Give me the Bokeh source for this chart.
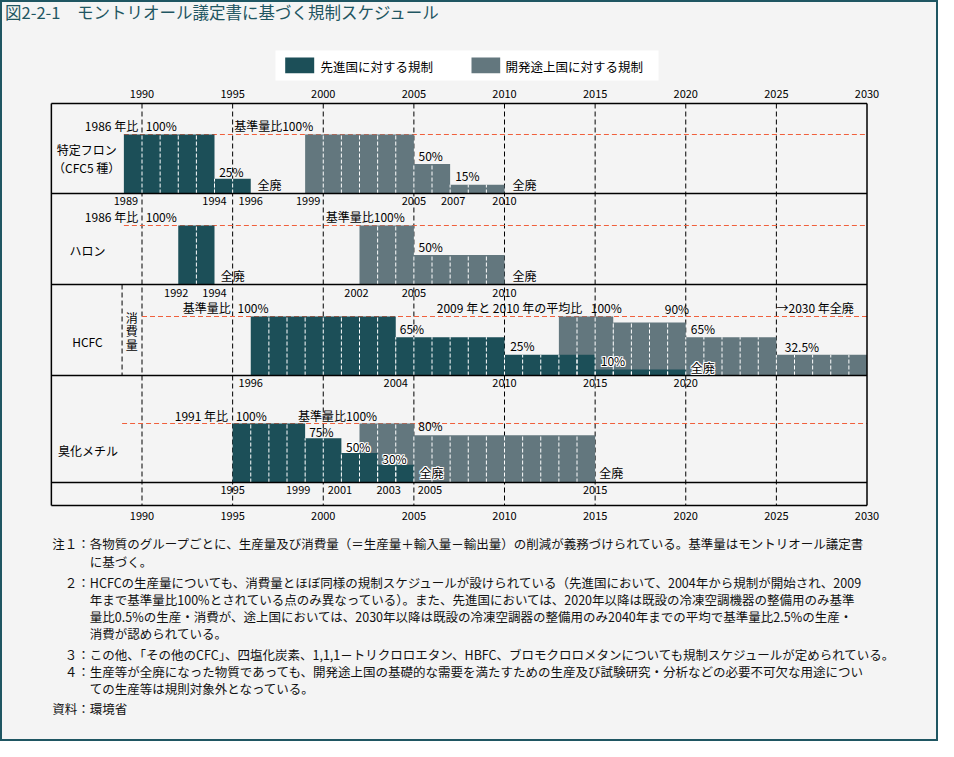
from bokeh.plotting import figure
from bokeh.models import Range1d, ColumnDataSource
from bokeh.core.properties import value
from bokeh.embed import file_html
from bokeh.resources import INLINE

# ---------------------------------------------------------------- data
TITLE = "図2-2-1　モントリオール議定書に基づく規制スケジュール"
LEGEND_DEV = "先進国に対する規制"
LEGEND_DVG = "開発途上国に対する規制"

AXIS_YEARS = [1990, 1995, 2000, 2005, 2010, 2015, 2020, 2025, 2030]
AXIS_LABELS = [str(y) for y in AXIS_YEARS]

# 特定フロン（CFC5種）
cfc_dev_start = [1989, 1994]
cfc_dev_end = [1994, 1996]
cfc_dev_pct = [100, 25]
cfc_dvg_start = [1999, 2005, 2007]
cfc_dvg_end = [2005, 2007, 2010]
cfc_dvg_pct = [100, 50, 15]
cfc_year_marks = [1989, 1994, 1996, 1999, 2005, 2007, 2010]

# ハロン
halon_dev_start = [1992]
halon_dev_end = [1994]
halon_dev_pct = [100]
halon_dvg_start = [2002, 2005]
halon_dvg_end = [2005, 2010]
halon_dvg_pct = [100, 50]
halon_year_marks = [1992, 1994, 2002, 2005, 2010]

# HCFC（消費量）  (heights as drawn in the figure)
hcfc_dev_start = [1996, 2004, 2010, 2015]
hcfc_dev_end = [2004, 2010, 2015, 2020]
hcfc_dev_pct = [100, 65, 35, 10]
hcfc_dvg_start = [2013, 2016, 2020, 2025]
hcfc_dvg_end = [2016, 2020, 2025, 2030]
hcfc_dvg_pct = [100, 90, 65, 35]
hcfc_year_marks = [1996, 2004, 2010, 2015, 2020]

# 臭化メチル
mb_dev_start = [1995, 1999, 2001, 2003]
mb_dev_end = [1999, 2001, 2003, 2005]
mb_dev_pct = [100, 75, 50, 30]
mb_dvg_start = [2002, 2005]
mb_dvg_end = [2005, 2015]
mb_dvg_pct = [100, 80]
mb_year_marks = [1995, 1999, 2001, 2003, 2005, 2015]

NOTES = [
    ("注１：", "各物質のグループごとに、生産量及び消費量（＝生産量＋輸入量－輸出量）の削減が義務づけられている。基準量はモントリオール議定書"),
    ("", "に基づく。"),
    ("２：", "HCFCの生産量についても、消費量とほぼ同様の規制スケジュールが設けられている（先進国において、2004年から規制が開始され、2009"),
    ("", "年まで基準量比100%とされている点のみ異なっている）。また、先進国においては、2020年以降は既設の冷凍空調機器の整備用のみ基準"),
    ("", "量比0.5%の生産・消費が、途上国においては、2030年以降は既設の冷凍空調器の整備用のみ2040年までの平均で基準量比2.5%の生産・"),
    ("", "消費が認められている。"),
    ("３：", "この他、「その他のCFC」、四塩化炭素、1,1,1－トリクロロエタン、HBFC、ブロモクロロメタンについても規制スケジュールが定められている。"),
    ("４：", "生産等が全廃になった物質であっても、開発途上国の基礎的な需要を満たすための生産及び試験研究・分析などの必要不可欠な用途につい"),
    ("", "ての生産等は規則対象外となっている。"),
    ("資料：", "環境省"),
]

# ---------------------------------------------------------------- style / layout
FONT = "Noto Sans CJK JP"
W, H = 938, 741
BG = "#f4f4f4"
DEV = "#1c4f58"
DVG = "#63777e"
RED = "#f0603c"
TEAL = "#1f5662"

PX_PER_YEAR = 18.125
X1990_PX = 141.5
x_start = 1990 - X1990_PX / PX_PER_YEAR
x_end = x_start + W / PX_PER_YEAR

BAR_H = 59.0
ROW_BASE = [193.0, 284.0, 375.0, 482.0]
BOX_TOP, BOX_BOTTOM = 103.0, 505.0
BOX_X0, BOX_X1 = 1985, 2030
RED_START = [1989, 1989, 1990, 1988.9]
HCFC_SPLIT = 1988.9
YEAR_MARK_Y = [200.3, 292.0, 382.0, 489.7]
NOTE_Y = [543, 561, 582, 599, 616, 633, 654, 671, 688, 708]

p = figure(width=W, height=H, x_range=Range1d(x_start, x_end), y_range=Range1d(H, 0),
           x_axis_type=None, y_axis_type=None, toolbar_location=None,
           output_backend="svg", min_border=0, title=None)
p.background_fill_color = BG
p.border_fill_color = BG
p.outline_line_color = TEAL
p.outline_line_width = 3

extra_y = {}
for i, base in enumerate(ROW_BASE):
    extra_y[f"r{i}"] = Range1d((base - H) * 100.0 / BAR_H, base * 100.0 / BAR_H)
p.extra_y_ranges = extra_y
p.extra_x_ranges = {"px": Range1d(0, W)}


def draw_texts(items, size, xr="px", color="black", halo=False, font=FONT):
    """items: (x, y, text, align[, x_offset])"""
    for align in ("left", "right", "center"):
        sub = [it for it in items if it[3] == align]
        if not sub:
            continue
        src = ColumnDataSource(dict(
            x=[s[0] for s in sub], y=[s[1] for s in sub], t=[s[2] for s in sub],
            xo=[(s[4] if len(s) > 4 else 0) for s in sub]))
        common = dict(x="x", y="y", text="t", source=src, x_range_name=xr,
                      text_font=value(font), text_font_size=value(size),
                      text_align=align, text_baseline="middle")
        if halo:
            for dx in (-1, 0, 1):
                for dy in (-1, 0, 1):
                    if dx == 0 and dy == 0:
                        continue
                    src2 = ColumnDataSource(dict(src.data, xo=[v + dx for v in src.data["xo"]]))
                    c2 = dict(common, source=src2)
                    p.text(x_offset="xo", y_offset=dy, text_color="white", **c2)
        p.text(x_offset="xo", text_color=color, **common)


# title
draw_texts([(4.5, 11.5, TITLE, "left")], "16.5px", color=TEAL)

# legend
p.quad(left=[275], right=[658], top=[50], bottom=[80], x_range_name="px",
       fill_color="white", line_color=None)
p.quad(left=[284.7], right=[313.7], top=[57], bottom=[72.7], x_range_name="px",
       fill_color=DEV, line_color=None)
p.quad(left=[471], right=[499.7], top=[57], bottom=[72.7], x_range_name="px",
       fill_color=DVG, line_color=None)
draw_texts([(320, 66, LEGEND_DEV, "left"), (505, 66, LEGEND_DVG, "left")], "12.5px")

# grid (dashed year lines)
grid_years = AXIS_YEARS[:-1]
p.segment(x0=grid_years, x1=grid_years, y0=[BOX_TOP] * len(grid_years),
          y1=[BOX_BOTTOM] * len(grid_years), line_color="black", line_width=1,
          line_dash="5 3")
# HCFC split line
p.segment(x0=[HCFC_SPLIT], x1=[HCFC_SPLIT], y0=[ROW_BASE[1]], y1=[ROW_BASE[2]],
          line_color="black", line_width=1, line_dash="5 3")

# red 100% reference lines
for i in range(4):
    p.segment(x0=[RED_START[i]], x1=[2030], y0=[100], y1=[100], y_range_name=f"r{i}",
              line_color=RED, line_width=1.2, line_dash="5 3")

rows = [
    ((cfc_dev_start, cfc_dev_end, cfc_dev_pct), (cfc_dvg_start, cfc_dvg_end, cfc_dvg_pct)),
    ((halon_dev_start, halon_dev_end, halon_dev_pct), (halon_dvg_start, halon_dvg_end, halon_dvg_pct)),
    ((hcfc_dev_start, hcfc_dev_end, hcfc_dev_pct), (hcfc_dvg_start, hcfc_dvg_end, hcfc_dvg_pct)),
    ((mb_dev_start, mb_dev_end, mb_dev_pct), (mb_dvg_start, mb_dvg_end, mb_dvg_pct)),
]


def separators(starts, ends, pcts):
    xs, tops = [], []
    for k, (s, e, l) in enumerate(zip(starts, ends, pcts)):
        for yr in range(int(s) + 1, int(e)):
            xs.append(yr)
            tops.append(l)
        if k + 1 < len(starts) and starts[k + 1] == e:
            xs.append(e)
            tops.append(min(l, pcts[k + 1]))
    return xs, tops


for i, (dev, dvg) in enumerate(rows):
    rn = f"r{i}"
    for (st, en, pc), col in ((dvg, DVG), (dev, DEV)):
        p.quad(left=st, right=en, top=pc, bottom=[0] * len(st), y_range_name=rn,
               fill_color=col, line_color=None)
    for (st, en, pc) in (dvg, dev):
        xs, tops = separators(st, en, pc)
        if xs:
            p.segment(x0=xs, x1=xs, y0=[0] * len(xs), y1=tops, y_range_name=rn,
                      line_color="white", line_width=1, line_dash="4 2")

# box
h_lines = [BOX_TOP] + ROW_BASE + [BOX_BOTTOM]
p.segment(x0=[BOX_X0] * len(h_lines), x1=[BOX_X1] * len(h_lines), y0=h_lines, y1=h_lines,
          line_color="black", line_width=1.5)
p.segment(x0=[BOX_X0, BOX_X1], x1=[BOX_X0, BOX_X1], y0=[BOX_TOP] * 2, y1=[BOX_BOTTOM] * 2,
          line_color="black", line_width=1.5)

# axis year labels (top & bottom)
axis_items = [(y, 93.7, lab, "center") for y, lab in zip(AXIS_YEARS, AXIS_LABELS)]
axis_items += [(y, 515.5, lab, "center") for y, lab in zip(AXIS_YEARS, AXIS_LABELS)]
draw_texts(axis_items, "11px", xr="default")

# year marks under each row
mark_offsets = [
    {1989: 2, 1999: 3, 2007: 3},
    {1992: -2, 2002: -3},
    {},
    {1999: -7, 2001: -1.5, 2003: 11, 2005: 16},
]
mark_items = []
for i, yrs in enumerate([cfc_year_marks, halon_year_marks, hcfc_year_marks, mb_year_marks]):
    for yv in yrs:
        mark_items.append((yv, YEAR_MARK_Y[i], str(yv), "center", mark_offsets[i].get(yv, 0)))
draw_texts(mark_items, "11px", xr="default")

# row names
draw_texts([
    (86.2, 148.7, "特定フロン", "center"),
    (86.2, 167.0, "（CFC5 種）", "center"),
    (87.0, 249.7, "ハロン", "center"),
    (87.0, 341.0, "HCFC", "center"),
    (131.3, 317.0, "消", "center"),
    (131.3, 330.3, "費", "center"),
    (131.3, 343.7, "量", "center"),
    (87.5, 450.3, "臭化メチル", "center"),
], "12px")

# annotations
draw_texts([
    (137.7, 125.3, "1986 年比", "right"),
    (145.3, 125.3, "100%", "left"),
    (233.7, 125.3, "基準量比100%", "left"),
    (218.7, 171.3, "25%", "left"),
    (257.0, 183.7, "全廃", "left"),
    (418.0, 154.7, "50%", "left"),
    (454.7, 175.3, "15%", "left"),
    (512.0, 183.7, "全廃", "left"),
    (137.7, 216.3, "1986 年比", "right"),
    (145.3, 216.3, "100%", "left"),
    (325.3, 216.3, "基準量比100%", "left"),
    (418.0, 246.0, "50%", "left"),
    (220.3, 275.3, "全廃", "left"),
    (512.0, 275.3, "全廃", "left"),
    (230.3, 307.0, "基準量比", "right"),
    (237.0, 307.0, "100%", "left"),
    (399.3, 327.7, "65%", "left"),
    (436.3, 307.0, "2009 年と 2010 年の平均比", "left"),
    (590.3, 307.0, "100%", "left"),
    (664.3, 308.0, "90%", "left"),
    (776.0, 307.0, "→2030 年全廃", "left"),
    (690.3, 327.7, "65%", "left"),
    (509.7, 345.3, "25%", "left"),
    (784.3, 346.3, "32.5%", "left"),
    (227.6, 414.7, "1991 年比", "right"),
    (235.3, 414.7, "100%", "left"),
    (297.6, 414.7, "基準量比100%", "left"),
    (308.7, 431.0, "75%", "left"),
    (417.8, 424.7, "80%", "left"),
    (598.8, 472.0, "全廃", "left"),
], "12px")

draw_texts([
    (600.3, 360.3, "10%", "left"),
    (690.3, 367.0, "全廃", "left"),
    (345.5, 446.0, "50%", "left"),
    (381.8, 458.0, "30%", "left"),
    (419.0, 472.0, "全廃", "left"),
], "12px", halo=True)

# notes
note_items = []
for (pre, body), yv in zip(NOTES, NOTE_Y):
    if pre:
        note_items.append((89.3, yv, pre, "right"))
    note_items.append((89.3, yv, body, "left"))
draw_texts(note_items, "12.5px", color="#111111")

open("out.html", "w").write(file_html(p, INLINE))
